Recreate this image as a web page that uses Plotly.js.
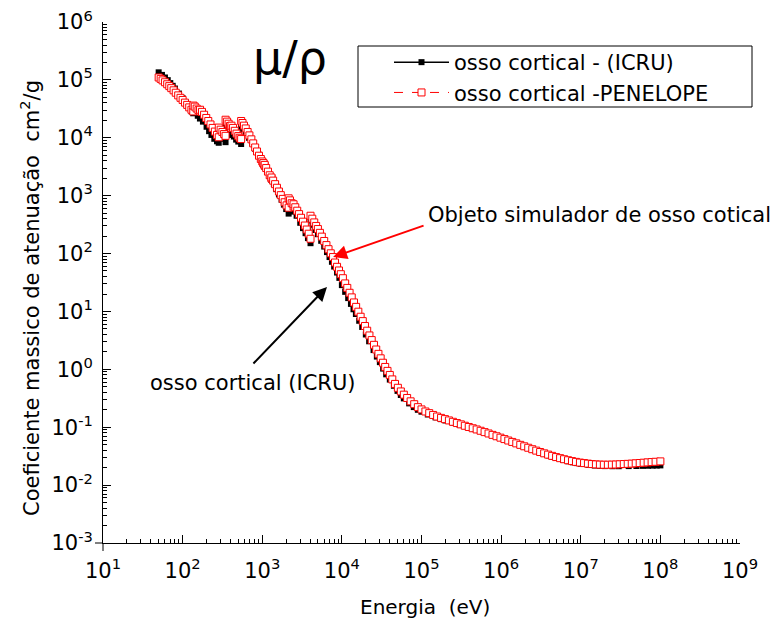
<!DOCTYPE html>
<html>
<head>
<meta charset="utf-8">
<script src="https://cdn.plot.ly/plotly-3.0.1.min.js"></script>
<style>html,body{margin:0;padding:0;background:#fff;}#chart{width:773px;height:624px;}</style>
</head>
<body>
<div id="chart"></div>
<script>
// ICRU (black) : energy in eV, mass attenuation coefficient cm2/g
const energyICRU = [50,55,60,65,70,75,80,90,100,110,120,130,136,136.5,145,155,165,165.5,180,200,215,230,250,270,284,284.5,300,320,346,346.5,370,390,410,410.5,440,470,500,543,543.5,570,620,680,750,820,900,1000,1035,1035.5,1072,1072.5,1150,1230,1305,1305.5,1400,1500,1620,1750,1870,2000,2145,2145.5,2300,2472,2472.5,2700,3000,3250,3500,3750,4038,4038.5,4300,4650,5000,5500,6000,6500,7000,7500,8000,8700,9300,10000,11000,12000,13000,14000,15000,16500,18000,20000,22000,25000,27500,30000,33000,36000,40000,45000,50000,55000,60000,70000,80000,90000,100000,120000,150000,175000,200000,250000,300000,350000,400000,450000,500000,600000,700000,800000,900000,1e6,1.25e6,1.5e6,1.75e6,2e6,2.5e6,3e6,3.5e6,4e6,4.5e6,5e6,6e6,7e6,8e6,9e6,1e7,1.25e7,1.5e7,1.75e7,2e7,2.5e7,3e7,4e7,5e7,6e7,7e7,8e7,9e7,1e8];
const muICRU = [1.35e5,1.22e5,1.10e5,9.9e4,8.8e4,7.9e4,7.1e4,5.8e4,4.8e4,4.0e4,3.35e4,2.85e4,2.65e4,2.95e4,2.7e4,2.4e4,2.15e4,2.25e4,1.9e4,1.55e4,1.3e4,1.12e4,9.6e3,8.7e3,8.2e3,1.15e4,1.08e4,9.6e3,8.4e3,1.55e4,1.4e4,1.25e4,1.12e4,1.2e4,1.05e4,9.3e3,8.6e3,7.8e3,1.55e4,1.45e4,1.22e4,1.0e4,8.0e3,6.4e3,5.1e3,3.78e3,3.45e3,3.46e3,3.15e3,3.16e3,2.65e3,2.2e3,1.89e3,1.9e3,1.58e3,1.295e3,1.05e3,850,700,587,490,770,640,530,570,450,340,275,225,185,151,375,315,255,216,166,132,106,87,72,59.6,47,38,28.5,21.8,17.0,13.5,10.9,9.03,6.9,5.4,4.0,3.05,2.15,1.66,1.331,1.03,0.82,0.6655,0.52,0.4242,0.36,0.3148,0.258,0.2229,0.200,0.1855,0.166,0.148,0.138,0.1309,0.1204,0.1113,0.1047,0.0991,0.0943,0.0902,0.0833,0.0778,0.0731,0.0691,0.0657,0.0587,0.0535,0.0494,0.0461,0.0411,0.0375,0.0347,0.0326,0.0308,0.0295,0.0273,0.0258,0.0248,0.0240,0.0234,0.0224,0.0218,0.0215,0.0213,0.0212,0.0212,0.0213,0.0214,0.0215,0.0216,0.0217,0.0218,0.0219];

// PENELOPE (red)
const energyPEN = [50,53,56,60,64,68,72,77,82,88,94,100,107,114,121,129,136,136.5,142,150,158,165,165.5,175,186,198,210,224,238,254,270,284,284.5,300,316,332,346,346.5,362,378,394,410,410.5,430,452,475,500,520,543,543.5,565,590,620,655,690,730,770,815,860,910,960,1000,1035,1035.5,1072,1072.5,1120,1180,1240,1305,1305.5,1370,1450,1530,1620,1710,1810,1910,2020,2145,2145.5,2230,2340,2472,2472.5,2600,2750,2900,3070,3250,3430,3620,3830,4038,4038.5,4250,4500,4750,5000,5300,5600,6000,6400,6800,7250,7750,8200,8700,9200,9700,10300,11000,11700,12500,13300,14200,15100,16100,17200,18300,19500,20800,22200,23700,25300,27000,28800,30700,32800,35000,37400,40000,43000,46500,50500,55000,60000,66000,73000,81000,90000,100000,112000,125000,140000,157000,176000,197000,221000,248000,278000,312000,350000,392000,440000,493000,553000,620000,695000,780000,875000,981000,1.1e6,1.23e6,1.38e6,1.55e6,1.74e6,1.95e6,2.19e6,2.46e6,2.76e6,3.09e6,3.47e6,3.89e6,4.37e6,4.9e6,5.5e6,6.17e6,6.92e6,7.76e6,8.71e6,9.77e6,1.1e7,1.23e7,1.38e7,1.55e7,1.74e7,1.95e7,2.19e7,2.46e7,2.76e7,3.09e7,3.47e7,3.89e7,4.37e7,4.9e7,5.5e7,6.17e7,6.92e7,7.76e7,8.71e7,1e8];
const muPEN = [1.10e5,1.04e5,9.8e4,9.1e4,8.4e4,7.8e4,7.2e4,6.6e4,6.0e4,5.4e4,4.9e4,4.5e4,4.05e4,3.7e4,3.35e4,3.05e4,2.85e4,3.6e4,3.45e4,3.2e4,3.0e4,2.85e4,3.05e4,2.8e4,2.5e4,2.2e4,1.95e4,1.7e4,1.48e4,1.28e4,1.12e4,1.02e4,1.5e4,1.38e4,1.26e4,1.16e4,1.08e4,2.05e4,1.9e4,1.75e4,1.6e4,1.48e4,1.62e4,1.48e4,1.32e4,1.18e4,1.07e4,1.0e4,9.5e3,1.95e4,1.8e4,1.62e4,1.45e4,1.26e4,1.1e4,9.4e3,8.0e3,6.8e3,5.8e3,4.9e3,4.3e3,3.9e3,3.6e3,3.65e3,3.3e3,3.4e3,3.0e3,2.6e3,2.25e3,1.98e3,2.06e3,1.82e3,1.58e3,1.37e3,1.18e3,1020,880,770,680,620,900,830,740,650,710,630,550,480,415,355,305,260,220,180,450,400,345,300,265,228,196,165,140,119,101,87,70,59,51,44,37.5,30.5,25.5,21,17.5,14.3,12,9.9,8.1,6.8,5.6,4.65,3.85,3.2,2.65,2.2,1.85,1.55,1.3,1.1,0.94,0.80,0.67,0.56,0.48,0.415,0.365,0.32,0.28,0.25,0.222,0.203,0.187,0.175,0.163,0.153,0.145,0.138,0.131,0.124,0.118,0.112,0.106,0.101,0.096,0.0915,0.0868,0.0823,0.078,0.0737,0.0698,0.066,0.0624,0.0589,0.0557,0.0526,0.0496,0.0468,0.0442,0.0417,0.0394,0.0373,0.0354,0.0336,0.032,0.0305,0.0292,0.028,0.0269,0.026,0.0252,0.0245,0.024,0.0235,0.0231,0.0228,0.0226,0.0225,0.0225,0.0226,0.0227,0.0229,0.0231,0.0233,0.0235,0.0238,0.0241,0.0244,0.0247,0.025,0.0253,0.0257];

const xTickVals = [1e1,1e2,1e3,1e4,1e5,1e6,1e7,1e8,1e9];
const xTickText = ['10<sup>1</sup>','10<sup>2</sup>','10<sup>3</sup>','10<sup>4</sup>','10<sup>5</sup>','10<sup>6</sup>','10<sup>7</sup>','10<sup>8</sup>','10<sup>9</sup>'];
const yTickVals = [1e-3,1e-2,1e-1,1e0,1e1,1e2,1e3,1e4,1e5,1e6];
const yTickText = ['10<sup>-3</sup>','10<sup>-2</sup>','10<sup>-1</sup>','10<sup>0</sup>','10<sup>1</sup>','10<sup>2</sup>','10<sup>3</sup>','10<sup>4</sup>','10<sup>5</sup>','10<sup>6</sup>'];

function minorTicks(lo, hi){
  const out = [];
  for(let k = lo; k < hi; k++){ for(let d = 2; d <= 9; d++){ out.push(d * Math.pow(10, k)); } }
  return out;
}

const FONT = 'DejaVu Sans, Verdana, sans-serif';
const L = 103, R = 33, T = 22, B = 81, W = 773, H = 624;
const pw = W - L - R, ph = H - T - B;
const px = v => (v - L) / pw;
const py = v => (H - B - v) / ph;

const traces = [
  {x: energyICRU, y: muICRU, name: 'osso cortical - (ICRU)', type: 'scatter', mode: 'lines+markers',
   line: {color: '#000', width: 1.5}, marker: {symbol: 'square', size: 6, color: '#000'}},
  {x: energyPEN, y: muPEN, name: 'osso cortical -PENELOPE', type: 'scatter', mode: 'lines+markers',
   line: {color: '#ff0000', width: 1, dash: 'dash'}, marker: {symbol: 'square', size: 7, color: '#fff', line: {color: '#ff0000', width: 1}}}
];

const axisCommon = {
  type: 'log', showgrid: false, zeroline: false, showline: true, linecolor: '#000', linewidth: 1,
  ticks: 'inside', ticklen: 8, tickwidth: 1, tickcolor: '#000', tickmode: 'array',
  tickfont: {family: FONT, size: 21, color: '#000'}
};

const layout = {
  width: W, height: H,
  margin: {l: L, r: R, t: T, b: B},
  paper_bgcolor: '#fff', plot_bgcolor: '#fff',
  font: {family: FONT, color: '#000'},
  showlegend: true,
  legend: {x: px(389), y: py(42), xanchor: 'left', yanchor: 'top', bgcolor: 'rgba(0,0,0,0)', borderwidth: 0,
           font: {family: FONT, size: 21, color: '#000'}, itemwidth: 55},
  xaxis: Object.assign({}, axisCommon, {range: [1, 9], tickvals: xTickVals, ticktext: xTickText, ticklabelstandoff: 9,
     minor: {tickmode: 'array', tickvals: minorTicks(1, 9), ticks: 'inside', ticklen: 4, tickcolor: '#000', showgrid: false}}),
  yaxis: Object.assign({}, axisCommon, {range: [-3, 6], tickvals: yTickVals, ticktext: yTickText, ticklabelstandoff: 5,
     minor: {tickmode: 'array', tickvals: minorTicks(-3, 6), ticks: 'inside', ticklen: 4, tickcolor: '#000', showgrid: false}}),
  shapes: [
    {type: 'rect', xref: 'paper', yref: 'paper', x0: px(358), x1: px(752), y0: py(107), y1: py(46), line: {color: '#000', width: 1}, fillcolor: 'rgba(0,0,0,0)'},
    {type: 'line', xref: 'paper', yref: 'paper', x0: px(95), x1: px(103), y0: 0, y1: 0, line: {color: '#000', width: 1}},
    {type: 'line', xref: 'paper', yref: 'paper', x0: 0, x1: 0, y0: py(543), y1: py(551), line: {color: '#000', width: 1}}
  ],
  annotations: [
    {xref: 'paper', yref: 'paper', x: px(290), y: py(58), text: 'μ/ρ', showarrow: false, xanchor: 'center', yanchor: 'middle',
     font: {family: FONT, size: 46, color: '#000'}},
    {xref: 'paper', yref: 'paper', x: px(426), y: py(215), text: 'Objeto simulador de osso cotical', showarrow: false,
     xanchor: 'left', yanchor: 'middle', font: {family: FONT, size: 21, color: '#000'}},
    {xref: 'paper', yref: 'paper', x: px(148), y: py(383), text: 'osso cortical (ICRU)', showarrow: false,
     xanchor: 'left', yanchor: 'middle', font: {family: FONT, size: 21, color: '#000'}},
    {x: Math.log10(7750), y: Math.log10(87), text: '', showarrow: true, ax: 92, ay: -32, arrowcolor: '#ff0000', arrowwidth: 2, arrowhead: 2, arrowsize: 1.4},
    {x: Math.log10(6500), y: Math.log10(26.5), text: '', showarrow: true, ax: -75, ay: 78, arrowcolor: '#000', arrowwidth: 2, arrowhead: 2, arrowsize: 1.4},
    {xref: 'paper', yref: 'paper', x: px(425), y: py(607), text: 'Energia\u00a0\u00a0(eV)', showarrow: false, xanchor: 'center', yanchor: 'middle',
     font: {family: FONT, size: 20, color: '#000'}},
    {xref: 'paper', yref: 'paper', x: px(30), y: py(298), text: 'Coeficiente massico de atenuação\u00a0\u00a0cm<sup>2</sup>/g', showarrow: false,
     textangle: -90, xanchor: 'center', yanchor: 'middle', font: {family: FONT, size: 21, color: '#000'}}
  ]
};

Plotly.newPlot('chart', traces, layout, {displayModeBar: false, staticPlot: true});
</script>
</body>
</html>
